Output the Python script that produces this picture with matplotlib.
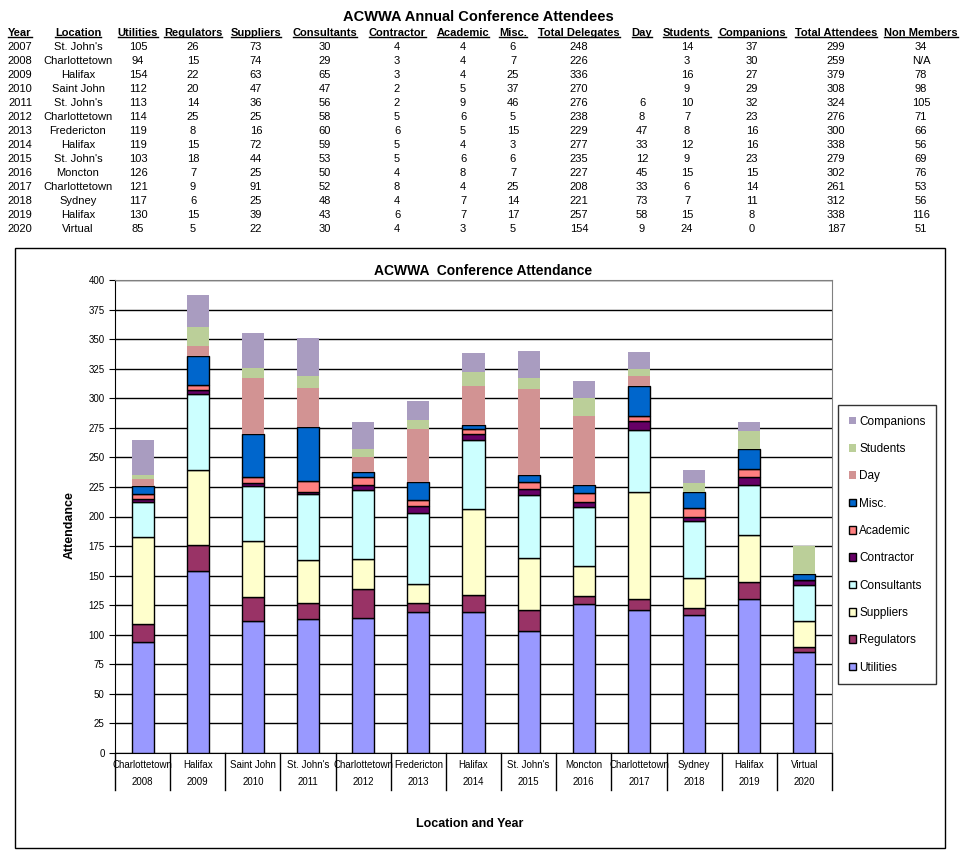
import numpy as np
import matplotlib
matplotlib.use('Agg')
import matplotlib.pyplot as plt
import matplotlib.transforms as transforms
from matplotlib.patches import Rectangle
from matplotlib.lines import Line2D

plt.rcParams['font.family'] = ['Liberation Sans', 'DejaVu Sans']

# ---- table data (2007-2020) ----
years_tbl = [2007, 2008, 2009, 2010, 2011, 2012, 2013, 2014, 2015, 2016, 2017, 2018, 2019, 2020]
locations_tbl = ["St. John's", 'Charlottetown', 'Halifax', 'Saint John', "St. John's", 'Charlottetown',
                 'Fredericton', 'Halifax', "St. John's", 'Moncton', 'Charlottetown', 'Sydney', 'Halifax', 'Virtual']
utilities = [105, 94, 154, 112, 113, 114, 119, 119, 103, 126, 121, 117, 130, 85]
regulators = [26, 15, 22, 20, 14, 25, 8, 15, 18, 7, 9, 6, 15, 5]
suppliers = [73, 74, 63, 47, 36, 25, 16, 72, 44, 25, 91, 25, 39, 22]
consultants = [30, 29, 65, 47, 56, 58, 60, 59, 53, 50, 52, 48, 43, 30]
contractor = [4, 3, 3, 2, 2, 5, 6, 5, 5, 4, 8, 4, 6, 4]
academic = [4, 4, 4, 5, 9, 6, 5, 4, 6, 8, 4, 7, 7, 3]
misc = [6, 7, 25, 37, 46, 5, 15, 3, 6, 7, 25, 14, 17, 5]
total_delegates = [248, 226, 336, 270, 276, 238, 229, 277, 235, 227, 208, 221, 257, 154]
day = [None, None, None, None, 6, 8, 47, 33, 12, 45, 33, 73, 58, 9]
students = [14, 3, 16, 9, 10, 7, 8, 12, 9, 15, 6, 7, 15, 24]
companions = [37, 30, 27, 29, 32, 23, 16, 16, 23, 15, 14, 11, 8, 0]
total_attendees = [299, 259, 379, 308, 324, 276, 300, 338, 279, 302, 261, 312, 338, 187]
non_members = ['34', 'N/A', '78', '98', '105', '71', '66', '56', '69', '76', '53', '56', '116', '51']

# ---- chart data (2008-2020), as drawn in the chart ----
chart_years = years_tbl[1:]
chart_locations = locations_tbl[1:]
chart_academic = [4, 4, 5, 9, 6, 5, 4, 6, 8, 4, 7, 7, 0]
chart_day = [6, 8, 47, 33, 12, 45, 33, 73, 58, 9, 0, 0, 0]

series = [
    ('Utilities', utilities[1:], '#9999FF', True),
    ('Regulators', regulators[1:], '#993366', True),
    ('Suppliers', suppliers[1:], '#FFFFCC', True),
    ('Consultants', consultants[1:], '#CCFFFF', True),
    ('Contractor', contractor[1:], '#660066', True),
    ('Academic', chart_academic, '#FF8080', True),
    ('Misc.', misc[1:], '#0066CC', True),
    ('Day', chart_day, '#D29393', False),
    ('Students', students[1:], '#BBCF99', False),
    ('Companions', companions[1:], '#A99CC0', False),
]

W, H = 963, 858
fig = plt.figure(figsize=(W / 100, H / 100), dpi=100)

def fx(px):
    return px / W

def fy(py):
    return 1 - py / H

# ---- top table ----
fig.text(fx(478), fy(17), 'ACWWA Annual Conference Attendees', ha='center', va='center',
         fontsize=10.5, fontweight='bold')

col_x = [20, 78, 138, 193, 256, 325, 397, 463, 513, 579, 642, 687, 752, 836, 921]
headers = ['Year', 'Location', 'Utilities', 'Regulators', 'Suppliers', 'Consultants', 'Contractor',
           'Academic', 'Misc.', 'Total Delegates', 'Day', 'Students', 'Companions',
           'Total Attendees', 'Non Members']
columns = [years_tbl, locations_tbl, utilities, regulators, suppliers, consultants, contractor,
           academic, misc, total_delegates, day, students, companions, total_attendees, non_members]

header_texts = []
for cx, h in zip(col_x, headers):
    t = fig.text(fx(cx), fy(33), h, ha='center', va='center', fontsize=8, fontweight='bold')
    header_texts.append(t)

for r in range(len(years_tbl)):
    y = fy(47 + 14 * r)
    for cx, col in zip(col_x, columns):
        v = col[r]
        if v is None:
            continue
        fig.text(fx(cx), y, str(v), ha='center', va='center', fontsize=8)

# ---- chart frame ----
fig.patches.append(Rectangle((fx(15), fy(848)), fx(945) - fx(15), fy(248) - fy(848),
                             transform=fig.transFigure, fill=False, edgecolor='black', linewidth=1))

ax = fig.add_axes([fx(115), fy(753), fx(832) - fx(115), fy(280) - fy(753)])
x = np.arange(len(chart_years))
bottom = np.zeros(len(x))
handles = []
for name, vals, color, edged in series:
    vals = np.array(vals, dtype=float)
    b = ax.bar(x, vals, 0.4, bottom=bottom, color=color,
               edgecolor='black' if edged else 'none', linewidth=1, label=name, zorder=3)
    handles.append(b)
    bottom += vals

ax.set_xlim(-0.5, len(x) - 0.5)
ax.set_ylim(0, 400)
ax.set_yticks(np.arange(0, 401, 25))
ax.tick_params(axis='y', labelsize=7, length=4, direction='out')
ax.set_xticks([])
ax.grid(axis='y', color='black', linewidth=1, zorder=0)
ax.set_axisbelow(True)
for s in ['top', 'right']:
    ax.spines[s].set_color('#808080')
ax.spines['left'].set_color('black')
ax.spines['bottom'].set_color('black')

trans = transforms.blended_transform_factory(ax.transData, ax.transAxes)
ah = fy(280) - fy(753)
ah_px = 473
for i in x:
    ax.text(i, -12 / ah_px, chart_locations[i], transform=trans, ha='center', va='center', fontsize=7)
    ax.text(i, -29 / ah_px, str(chart_years[i]), transform=trans, ha='center', va='center', fontsize=7)
for i in range(len(x) + 1):
    ax.add_line(Line2D([i - 0.5, i - 0.5], [0, -37 / ah_px], transform=trans, color='black',
                       linewidth=1, clip_on=False))

fig.text(fx(483), fy(271), 'ACWWA  Conference Attendance', ha='center', va='center',
         fontsize=10, fontweight='bold')
fig.text(fx(70), fy(525), 'Attendance', ha='center', va='center', rotation=90,
         fontsize=9, fontweight='bold')
fig.text(fx(470), fy(824), 'Location and Year', ha='center', va='center',
         fontsize=9, fontweight='bold')

leg = fig.legend(handles[::-1], [s[0] for s in series][::-1], loc='upper left',
                 bbox_to_anchor=(fx(838), fy(405)), fontsize=8.5, frameon=True, fancybox=False,
                 handlelength=0.6, handleheight=0.6, handletextpad=0.3, labelspacing=1.3,
                 borderpad=0.9, borderaxespad=0)
leg.get_frame().set_edgecolor('black')
leg.get_frame().set_linewidth(1)

# underline headers
fig.canvas.draw()
renderer = fig.canvas.get_renderer()
inv = fig.transFigure.inverted()
for t in header_texts:
    bb = t.get_window_extent(renderer)
    (x0, y0), (x1, y1) = inv.transform([(bb.x0, bb.y0), (bb.x1, bb.y1)])
    fig.lines.append(Line2D([x0, x1], [y0 + 0.001, y0 + 0.001], transform=fig.transFigure,
                            color='black', linewidth=1))

fig.savefig('out.png', dpi=100)
